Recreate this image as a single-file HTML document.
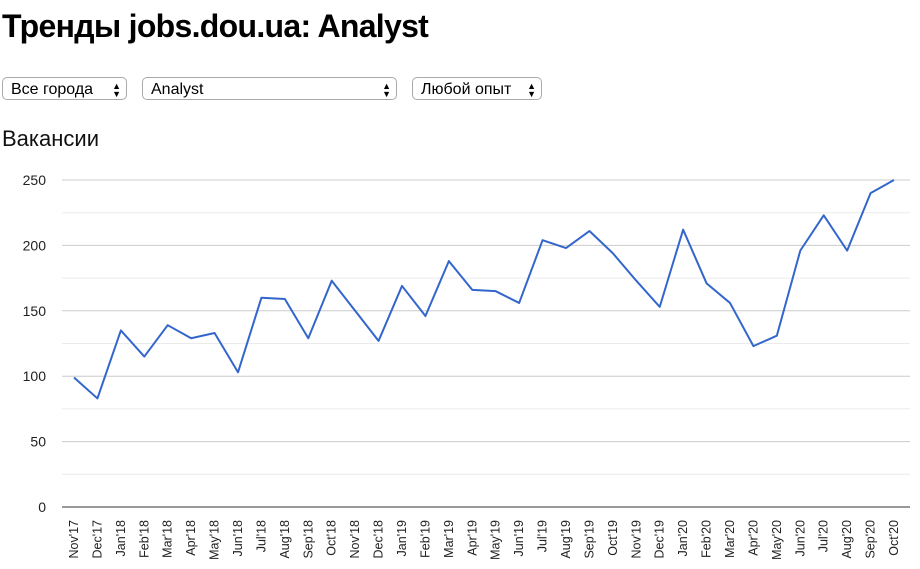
<!DOCTYPE html>
<html><head><meta charset="utf-8">
<style>
body{margin:0;width:920px;height:569px;background:#fff;font-family:"Liberation Sans","DejaVu Sans",sans-serif;overflow:hidden;position:relative}
h1{position:absolute;left:2px;top:8px;margin:0;font-size:32px;font-weight:bold;color:#000;letter-spacing:-0.7px}
.sel{position:absolute;top:77px;height:23px;border:1px solid #aaa;border-radius:5px;background:#fff;font-size:16px;line-height:23px;padding-left:8px;box-sizing:border-box;color:#000}
.sel .arr{position:absolute;right:5px;top:0;font-size:9px;line-height:8px;padding-top:4px;text-align:center}
.sub{position:absolute;left:2px;top:126px;font-size:22px;color:#111}
svg{position:absolute;left:0;top:0}
</style></head><body>
<h1>Тренды jobs.dou.ua: Analyst</h1>
<div class="sel" style="left:2px;width:125px">Все города<span class="arr">▲<br>▼</span></div>
<div class="sel" style="left:142px;width:255px">Analyst<span class="arr">▲<br>▼</span></div>
<div class="sel" style="left:412px;width:130px">Любой опыт<span class="arr">▲<br>▼</span></div>
<div class="sub">Вакансии</div>
<svg id="chart" width="920" height="569"></svg>
<script>
const categories=["Nov'17","Dec'17","Jan'18","Feb'18","Mar'18","Apr'18","May'18","Jun'18","Jul'18","Aug'18","Sep'18","Oct'18","Nov'18","Dec'18","Jan'19","Feb'19","Mar'19","Apr'19","May'19","Jun'19","Jul'19","Aug'19","Sep'19","Oct'19","Nov'19","Dec'19","Jan'20","Feb'20","Mar'20","Apr'20","May'20","Jun'20","Jul'20","Aug'20","Sep'20","Oct'20"];
const vacancies=[99,83,135,115,139,129,133,103,160,159,129,173,150,127,169,146,188,166,165,156,204,198,211,194,173,153,212,171,156,123,131,196,223,196,240,250];
const yTicks=[0,50,100,150,200,250];
const yMinor=[25,75,125,175,225];
const NS="http://www.w3.org/2000/svg";
const svg=document.getElementById('chart');
const x0=74,x1=894,yBase=507,yTop=180,yMax=250,axL=62,axR=910;
const xs=i=>x0+(x1-x0)*i/(categories.length-1);
const ys=v=>yBase-(yBase-yTop)*v/yMax;
function mk(t,a){const e=document.createElementNS(NS,t);for(const k in a)e.setAttribute(k,a[k]);svg.appendChild(e);return e;}
yMinor.forEach(v=>{const l=mk('line',{x1:axL,x2:axR,y1:ys(v),y2:ys(v),stroke:'#ebebeb','stroke-width':1});

});
yTicks.forEach(v=>{const l=mk('line',{x1:axL,x2:axR,y1:ys(v),y2:ys(v),stroke:v===0?'#333':'#ccc','stroke-width':1});


const t=mk('text',{x:46,y:ys(v)+5,'text-anchor':'end','font-size':14,fill:'#222'});t.textContent=v;

});
categories.forEach((c,i)=>{const t=mk('text',{transform:`translate(${xs(i)+4},520) rotate(-90)`,'text-anchor':'end','font-size':12.5,fill:'#222'});t.textContent=c;

});
const p=mk('polyline',{points:vacancies.map((v,i)=>xs(i)+','+ys(v)).join(' '),fill:'none',stroke:'#3366cc','stroke-width':2,'stroke-linejoin':'round'});


</script>
</body></html>
